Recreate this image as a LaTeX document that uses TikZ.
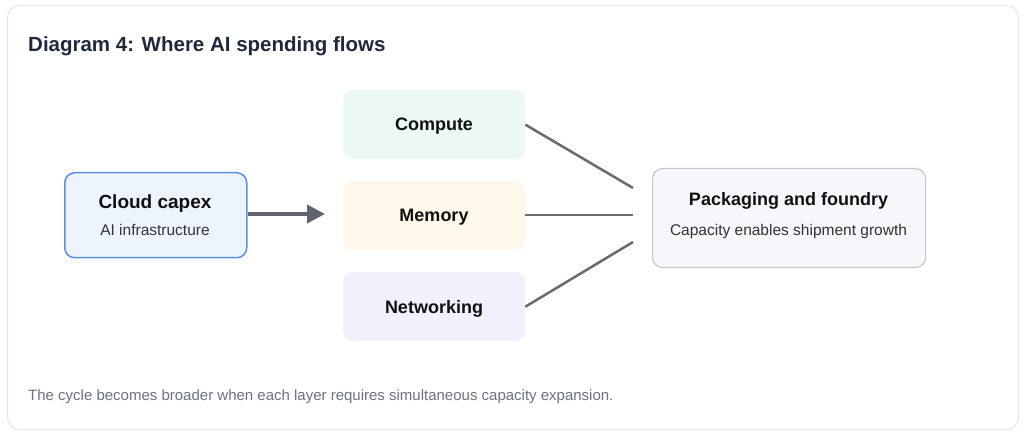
\documentclass[tikz,border=0pt]{standalone}
\usepackage{fontspec}
\setmainfont{Liberation Sans}
\usetikzlibrary{arrows.meta}
\definecolor{cardborder}{HTML}{E4E6EA}
\definecolor{titlecol}{HTML}{1E293B}
\definecolor{cloudfill}{HTML}{EEF4FE}
\definecolor{cloudborder}{HTML}{5B8FE6}
\definecolor{computefill}{HTML}{ECF9F2}
\definecolor{memoryfill}{HTML}{FDF8E9}
\definecolor{netfill}{HTML}{F3F0FD}
\definecolor{packfill}{HTML}{F5F7FA}
\definecolor{packborder}{HTML}{C6C8CC}
\definecolor{arrowcol}{HTML}{60646E}
\definecolor{linecol}{HTML}{6B6B6E}
\definecolor{textcol}{HTML}{111111}
\definecolor{subcol}{HTML}{333333}
\definecolor{footcol}{HTML}{6B7280}
\tikzset{
  box/.style={rectangle, rounded corners=10pt, inner sep=0pt, anchor=north west},
  headtext/.style={anchor=base, inner sep=0pt, text=textcol, font=\bfseries\fontsize{18}{20}\selectfont},
  subtext/.style={anchor=base, inner sep=0pt, text=subcol, font=\fontsize{15.5}{18}\selectfont},
  connector/.style={draw=linecol, line width=2.5pt},
}
\begin{document}
\begin{tikzpicture}[x=1pt,y=-1pt]
\useasboundingbox (0,0) rectangle (1024,435);
\fill[white] (0,0) rectangle (1024,435);
\node[box, draw=cardborder, line width=1pt, fill=white, minimum width=1011pt, minimum height=424pt, rounded corners=12pt] (card) at (7,5) {};
\node[anchor=base west, inner sep=0pt, text=titlecol, font=\bfseries\fontsize{20.5}{24}\selectfont] (title) at (28,51.5) {Diagram 4: Where AI spending flows};

\node[box, draw=cloudborder, line width=1.5pt, fill=cloudfill, minimum width=182pt, minimum height=85pt] (cloud) at (64,172) {};
\node[headtext, font=\bfseries\fontsize{19}{22}\selectfont] (cloudh) at (155,208.3) {Cloud capex};
\node[subtext] (clouds) at (155,236) {AI infrastructure};

\node[box, fill=computefill, minimum width=182pt, minimum height=69pt] (compute) at (343,90) {};
\node[headtext] (computet) at (434,131) {Compute};
\node[box, fill=memoryfill, minimum width=182pt, minimum height=69pt] (memory) at (343,181) {};
\node[headtext] (memoryt) at (434,222) {Memory};
\node[box, fill=netfill, minimum width=182pt, minimum height=69pt] (network) at (343,272) {};
\node[headtext] (networkt) at (434,313) {Networking};

\node[box, draw=packborder, line width=1.2pt, fill=packfill, minimum width=273pt, minimum height=99pt] (pack) at (652,168) {};
\node[headtext] (packh) at (788.5,205.7) {Packaging and foundry};
\node[subtext] (packs) at (788.5,236) {Capacity enables shipment growth};

\coordinate (arrowend) at (325,214);
\draw[draw=arrowcol, line width=4pt, -{Triangle[length=18pt,width=18pt]}] (cloud.east |- arrowend) -- (arrowend);

\coordinate (pin1) at (633,188);
\coordinate (pin2) at (633,215);
\coordinate (pin3) at (633,242);
\draw[connector] (compute.east) -- (pin1);
\draw[connector] (memory.east |- pin2) -- (pin2);
\draw[connector] (network.east) -- (pin3);

\node[anchor=base west, inner sep=0pt, text=footcol, font=\fontsize{15}{18}\selectfont] (foot) at (28,400) {The cycle becomes broader when each layer requires simultaneous capacity expansion.};
\end{tikzpicture}
\end{document}
